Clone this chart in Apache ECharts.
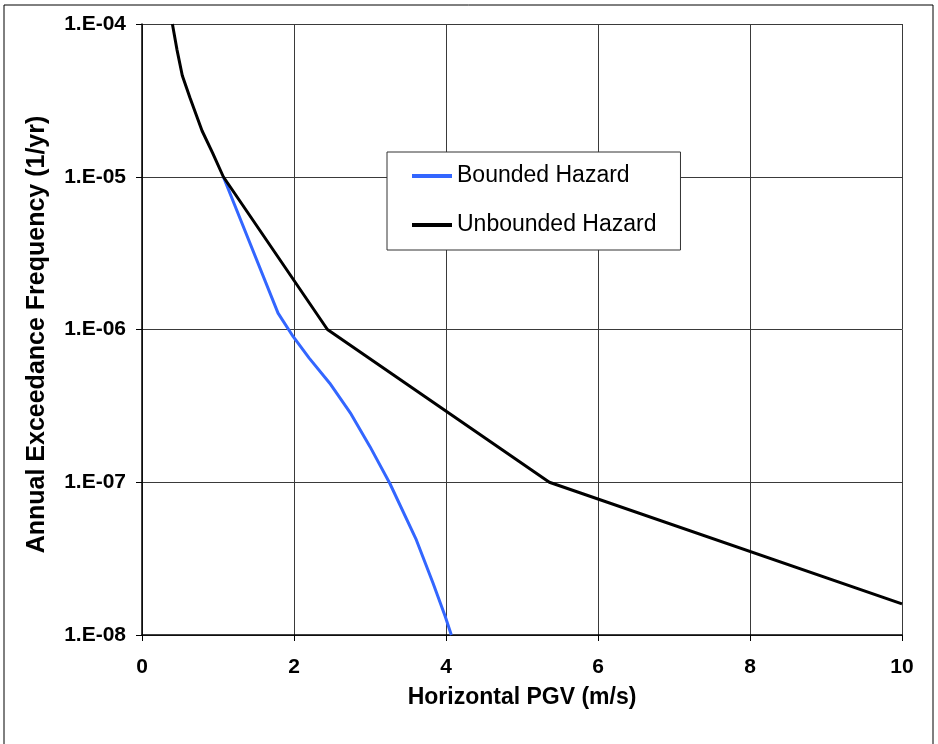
<!DOCTYPE html>
<html>
<head>
<meta charset="utf-8">
<script src="https://cdn.jsdelivr.net/npm/echarts@6/dist/echarts.min.js"></script>
<style>
  html, body { margin: 0; padding: 0; background: #fff; }
  #chart { width: 938px; height: 744px; }
</style>
</head>
<body>
<div id="chart"></div>
<script>
// ---- Data ----
const seriesNames = ['Bounded Hazard', 'Unbounded Hazard'];

const boundedPGV = [1.07, 1.79, 1.99, 2.2, 2.47, 2.75, 3.0, 3.26, 3.61, 3.83, 3.99, 4.07];
const boundedAFE = [1.0e-5, 1.28e-6, 8.97e-7, 6.5e-7, 4.45e-7, 2.8e-7, 1.71e-7, 9.85e-8, 4.19e-8, 2.18e-8, 1.32e-8, 1.0e-8];

const unboundedPGV = [0.40, 0.46, 0.53, 0.63, 0.79, 0.93, 1.07, 2.44, 5.36, 10.0];
const unboundedAFE = [1.0e-4, 6.8e-5, 4.6e-5, 3.3e-5, 2.0e-5, 1.43e-5, 1.0e-5, 1.0e-6, 1.0e-7, 1.6e-8];

const xTicks = [0, 2, 4, 6, 8, 10];
const yTickLabels = ['1.E-08', '1.E-07', '1.E-06', '1.E-05', '1.E-04'];

const xTitle = 'Horizontal PGV (m/s)';
const yTitle = 'Annual Exceedance Frequency (1/yr)';

// ---- Build chart ----
const pairs = (xs, ys) => xs.map((x, i) => [x, ys[i]]);
const chart = echarts.init(document.getElementById('chart'), null, { renderer: 'canvas' });
const FONT = 'Liberation Sans, Arial, sans-serif';

chart.setOption({
  animation: false,
  backgroundColor: '#ffffff',
  graphic: [{
    type: 'rect',
    shape: { x: 4, y: 5, width: 929, height: 760 },
    style: { fill: 'none', stroke: '#000', lineWidth: 1 },
    silent: true, z: -10
  }],
  grid: { left: 142, right: 36, top: 24, bottom: 109, containLabel: false },
  legend: {
    orient: 'vertical',
    left: 387, top: 152,
    padding: [12, 24, 13, 25],
    itemGap: 25,
    itemWidth: 40, itemHeight: 4,
    icon: 'rect',
    backgroundColor: '#fff',
    borderColor: '#333', borderWidth: 1,
    textStyle: { fontFamily: FONT, fontSize: 23, color: '#000', lineHeight: 24 },
    data: seriesNames
  },
  xAxis: {
    type: 'value',
    min: xTicks[0], max: xTicks[xTicks.length - 1], interval: 2,
    name: xTitle, nameLocation: 'middle', nameGap: 51,
    nameTextStyle: { fontFamily: FONT, fontSize: 23, fontWeight: 'bold', color: '#000' },
    axisLine: { onZero: false, lineStyle: { color: '#000', width: 1.5 } },
    axisTick: { show: true, inside: false, length: 6, lineStyle: { color: '#000' } },
    axisLabel: { margin: 22, fontFamily: FONT, fontSize: 21, fontWeight: 'bold', color: '#000' },
    splitLine: { show: true, lineStyle: { color: '#3a3a3a', width: 1 } }
  },
  yAxis: {
    type: 'log', logBase: 10,
    min: 1e-8, max: 1e-4, interval: 1,
    name: yTitle, nameLocation: 'middle', nameRotate: 90, nameGap: 92,
    nameTextStyle: { fontFamily: FONT, fontSize: 25, fontWeight: 'bold', color: '#000', padding: [0, 10, 0, 0] },
    axisLine: { show: true, lineStyle: { color: '#000', width: 1.5 } },
    axisTick: { show: true, inside: false, length: 6, lineStyle: { color: '#000' } },
    axisLabel: {
      margin: 16, fontFamily: FONT, fontSize: 21, fontWeight: 'bold', color: '#000',
      formatter: v => yTickLabels[Math.round(Math.log10(v)) + 8]
    },
    splitLine: { show: true, lineStyle: { color: '#3a3a3a', width: 1 } }
  },
  series: [
    {
      name: seriesNames[0], type: 'line', symbol: 'none', smooth: false,
      lineStyle: { color: '#3366FF', width: 3 }, itemStyle: { color: '#3366FF' },
      data: pairs(boundedPGV, boundedAFE), z: 3
    },
    {
      name: seriesNames[1], type: 'line', symbol: 'none', smooth: false,
      lineStyle: { color: '#000000', width: 3 }, itemStyle: { color: '#000000' },
      data: pairs(unboundedPGV, unboundedAFE), z: 4
    }
  ]
});
</script>
</body>
</html>
